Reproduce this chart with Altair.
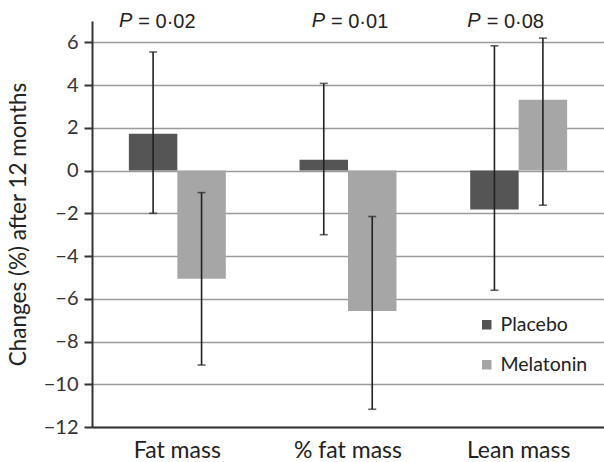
import altair as alt
import pandas as pd

categories = ["Fat mass", "% fat mass", "Lean mass"]
groups = ["Placebo", "Melatonin"]
placebo = [1.72, 0.51, -1.82]
placebo_low = [-2.0, -3.0, -5.6]
placebo_high = [5.55, 4.08, 5.84]
melatonin = [-5.06, -6.57, 3.32]
melatonin_low = [-9.1, -11.17, -1.62]
melatonin_high = [-1.03, -2.15, 6.2]
p_values = ["0·02", "0·01", "0·08"]

rows = []
for i, c in enumerate(categories):
    rows.append(dict(category=c, group="Placebo", value=placebo[i], low=placebo_low[i], high=placebo_high[i]))
    rows.append(dict(category=c, group="Melatonin", value=melatonin[i], low=melatonin_low[i], high=melatonin_high[i]))
df = pd.DataFrame(rows)

FONT = "Lato"
AX = "#333333"

x = alt.X("category:N", sort=categories,
          scale=alt.Scale(paddingInner=0.432, paddingOuter=0.216),
          axis=alt.Axis(title=None, labelAngle=0, domain=True, domainColor=AX, domainWidth=2,
                        ticks=False, labelFontSize=23, labelFont=FONT, labelColor="#222222",
                        labelPadding=12, grid=False))
xo = alt.XOffset("group:N", sort=groups, scale=alt.Scale(paddingInner=0, paddingOuter=0))
y = alt.Y("value:Q", scale=alt.Scale(domain=[-12, 7], nice=False, zero=False),
          axis=alt.Axis(title="Changes (%) after 12 months", values=list(range(-12, 7, 2)),
                        domainColor=AX, domainWidth=2, tickColor=AX, tickWidth=2, tickSize=8,
                        labelFontSize=20, labelFont=FONT, labelColor="#333333", labelPadding=6,
                        titleFont=FONT, titleFontSize=22.5, titleFontWeight="normal",
                        titleColor="#222222", titlePadding=14,
                        grid=True, gridColor="#9a9a9a", gridWidth=1.5))

color = alt.Color("group:N", sort=groups,
                  scale=alt.Scale(domain=groups, range=["#555555", "#a6a6a6"]),
                  legend=alt.Legend(title=None, orient="none", legendX=385, legendY=294,
                                    symbolType="square", symbolSize=90, symbolStrokeWidth=0,
                                    labelFont=FONT, labelFontSize=19.5, labelColor="#222222",
                                    rowPadding=19, labelOffset=4))

bars = alt.Chart(df).mark_bar().encode(x=x, xOffset=xo, y=y, color=color)

rules = alt.Chart(df).mark_rule(color="#222222", strokeWidth=1.6).encode(
    x=alt.X("category:N", sort=categories), xOffset=xo, y="low:Q", y2="high:Q")
caps_low = alt.Chart(df).mark_tick(color="#222222", size=8, thickness=1.6, orient="horizontal").encode(
    x=alt.X("category:N", sort=categories), xOffset=xo, y="low:Q")
caps_high = alt.Chart(df).mark_tick(color="#222222", size=8, thickness=1.6, orient="horizontal").encode(
    x=alt.X("category:N", sort=categories), xOffset=xo, y="high:Q")

label_shift = [-19, 3, -12]
layers = [bars, rules, caps_low, caps_high]
for i, c in enumerate(categories):
    d = pd.DataFrame({"category": [c], "p": [p_values[i]]})
    base = alt.Chart(d)
    pl = base.mark_text(text="P", fontStyle="italic", font="Liberation Sans", fontSize=20,
                        align="right", baseline="middle", color="#222222",
                        dx=label_shift[i] - 26).encode(
        x=alt.X("category:N", sort=categories), y=alt.datum(7))
    rest = base.mark_text(font="Liberation Sans", fontSize=20, align="left", baseline="middle",
                          color="#222222", dx=label_shift[i] - 20, dy=1).encode(
        x=alt.X("category:N", sort=categories), y=alt.datum(7),
        text=alt.Text("label:N")).transform_calculate(label="'= ' + datum.p")
    layers += [pl, rest]

chart = alt.layer(*layers).properties(
    width=512, height=406,
    autosize=alt.AutoSizeParams(type="none"),
    padding={"left": 92, "top": 21, "right": 0, "bottom": 35},
).configure_view(stroke=None).configure_axisY(titleX=-62)

chart.save("out.html", embed_options={"renderer": "svg", "actions": False})
